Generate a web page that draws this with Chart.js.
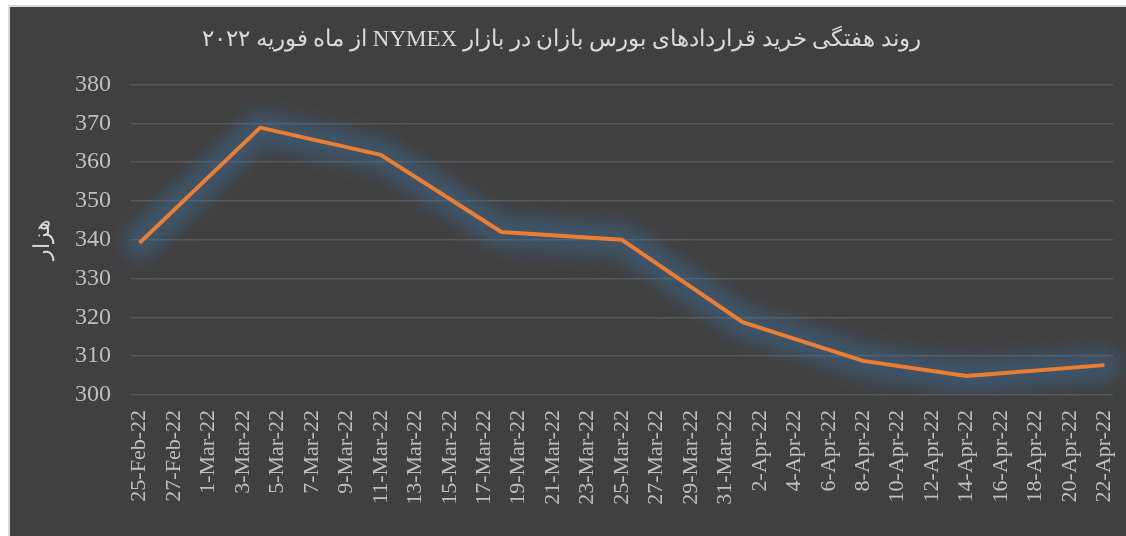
<!DOCTYPE html>
<html>
<head>
<meta charset="utf-8">
<script src="https://cdn.jsdelivr.net/npm/chart.js@4.4.1/dist/chart.umd.min.js"></script>
<style>
  html, body { margin: 0; padding: 0; background: #ffffff; }
  #frame {
    position: absolute; left: 8px; top: 5px; width: 1118px; height: 531px;
    background: #404040; border-left: 2px solid #d9d9d9; border-top: 2px solid #d9d9d9;
    box-sizing: border-box;
  }
  #wrap { position: absolute; left: 0; top: 0; width: 1116px; height: 529px; }
</style>
</head>
<body>
<div id="frame"><div id="wrap"><canvas id="trendChart"></canvas></div></div>
<script>
// weekly readings (thousand contracts)
const pointDates = ["25-Feb-22","4-Mar-22","11-Mar-22","18-Mar-22","25-Mar-22","1-Apr-22","8-Apr-22","14-Apr-22","22-Apr-22"];
const contracts = [339.2, 368.9, 361.9, 342.0, 340.0, 318.8, 308.8, 304.9, 307.7];

// date axis runs day by day, every second day is labelled
const firstDay = "2022-02-25";
const dayCount = 57;
const monthNames = ["Jan","Feb","Mar","Apr","May","Jun","Jul","Aug","Sep","Oct","Nov","Dec"];
const dayLabels = [];
for (let i = 0; i < dayCount; i++) {
  const d = new Date(firstDay + "T00:00:00Z");
  d.setUTCDate(d.getUTCDate() + i);
  dayLabels.push(d.getUTCDate() + "-" + monthNames[d.getUTCMonth()] + "-" + String(d.getUTCFullYear()).slice(2));
}

const yMin = 300, yMax = 380, yStep = 10;
const chartTitle = "روند هفتگی خرید قراردادهای بورس بازان در بازار NYMEX از ماه فوریه ۲۰۲۲";
const yTitle = "هزار";

// soft blue halo under the line (dataset 1 is the halo, drawn first)
const glow = {
  id: "glow",
  beforeDatasetDraw(chart, args) {
    if (args.index !== 1) return;
    chart.ctx.save();
    chart.ctx.filter = "blur(9px)";
  },
  afterDatasetDraw(chart, args) {
    if (args.index !== 1) return;
    chart.ctx.restore();
  }
};

const serif = "'Liberation Serif', 'Times New Roman', 'DejaVu Serif', serif";
const points = pointDates.map((d, i) => ({ x: d, y: contracts[i] }));

new Chart(document.getElementById("trendChart"), {
  type: "line",
  data: {
    labels: dayLabels,
    datasets: [{
      label: "contracts",
      data: points,
      borderColor: "#ed7d31",
      borderWidth: 4,
      pointRadius: 0,
      tension: 0,
      borderJoinStyle: "round"
    }, {
      label: "halo",
      data: points,
      borderColor: "rgba(60,120,180,0.38)",
      borderWidth: 32,
      pointRadius: 0,
      borderJoinStyle: "round",
      borderCapStyle: "round"
    }]
  },
  options: {
    responsive: true,
    maintainAspectRatio: false,
    animation: false,
    layout: { padding: { left: 0, right: 13, top: 0, bottom: 0 } },
    plugins: {
      legend: { display: false },
      tooltip: { enabled: false },
      title: {
        display: true,
        text: "\u202B" + chartTitle + "\u202C",
        color: "#d9d9d9",
        font: { family: serif, size: 23, weight: "normal" },
        padding: { top: 19, bottom: 31 }
      }
    },
    scales: {
      x: {
        type: "category",
        offset: true,
        grid: { display: false },
        border: { display: false },
        ticks: {
          autoSkip: false,
          maxRotation: 90,
          minRotation: 90,
          color: "#bfbfbf",
          font: { family: serif, size: 22 },
          padding: 7,
          callback: (v, i) => (i % 2 === 0 ? dayLabels[i] : "")
        },
        afterFit(scale) {
          scale.height = 141;
          scale.paddingLeft = 0;
          scale.paddingRight = 0;
        }
      },
      y: {
        min: yMin,
        max: yMax,
        grid: { color: "#595959", lineWidth: 1.5, drawTicks: false },
        border: { display: false },
        ticks: {
          stepSize: yStep,
          color: "#bfbfbf",
          font: { family: serif, size: 24 },
          padding: 20
        },
        title: {
          display: true,
          text: yTitle,
          color: "#d9d9d9",
          font: { family: serif, size: 22 },
          padding: { top: 20, bottom: 0 }
        },
        afterFit(scale) { scale.width = 121; }
      }
    }
  },
  plugins: [glow]
});
</script>
</body>
</html>
